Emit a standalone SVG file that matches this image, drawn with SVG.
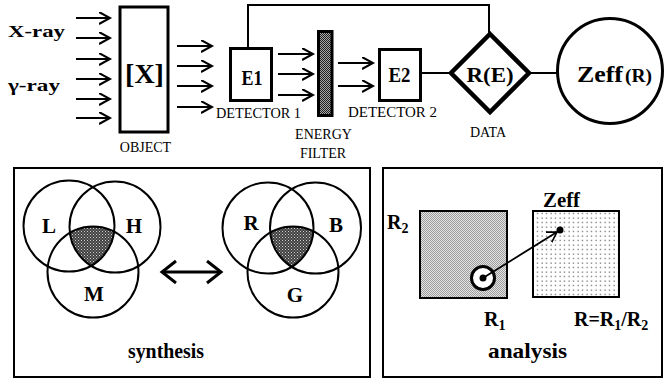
<svg xmlns="http://www.w3.org/2000/svg" width="665" height="379" viewBox="0 0 665 379">
<style>
.b{font-family:"Liberation Serif","Times New Roman",serif;font-weight:bold;fill:#000}
.r{font-family:"Liberation Serif","Times New Roman",serif;font-size:14px;fill:#000}
.ln{stroke:#000;stroke-width:2;fill:none}
.arr{stroke:#000;stroke-width:2;fill:none;marker-end:url(#ah)}
</style>
<defs>
<marker id="ah" markerWidth="14" markerHeight="14" refX="11" refY="6" orient="auto" markerUnits="userSpaceOnUse">
<path d="M0,0 L11,6 L0,12" fill="none" stroke="#000" stroke-width="2"/>
</marker>
<marker id="ahBig" markerWidth="20" markerHeight="26" refX="15" refY="12" orient="auto-start-reverse" markerUnits="userSpaceOnUse">
<path d="M1,1 L15,12 L1,23" fill="none" stroke="#000" stroke-width="3"/>
</marker>
<marker id="ahS" markerWidth="14" markerHeight="14" refX="10" refY="6" orient="auto" markerUnits="userSpaceOnUse">
<path d="M0,0 L10,6 L0,12" fill="none" stroke="#000" stroke-width="1.6"/>
</marker>
<pattern id="pFilter" width="2" height="2" patternUnits="userSpaceOnUse">
<rect width="2" height="2" fill="#a8a8a8"/><rect width="1" height="1" fill="#202020"/><rect x="1" y="1" width="1" height="1" fill="#202020"/>
</pattern>
<pattern id="pVenn" width="3" height="3" patternUnits="userSpaceOnUse">
<rect width="3" height="3" fill="#404040"/><rect width="1" height="1" fill="#d0d0d0"/><rect x="1.5" y="1.5" width="1" height="1" fill="#b0b0b0"/>
</pattern>
<pattern id="pLight" width="2" height="2" patternUnits="userSpaceOnUse">
<rect width="2" height="2" fill="#e4e4e4"/><rect width="1" height="1" fill="#9c9c9c"/><rect x="1" y="1" width="1" height="1" fill="#9c9c9c"/>
</pattern>
<pattern id="pDots" width="4.5" height="4.5" patternUnits="userSpaceOnUse">
<rect width="4.5" height="4.5" fill="#fff"/><rect x="1.5" y="1.5" width="1.2" height="1.2" fill="#555"/>
</pattern>
<clipPath id="cL"><circle cx="69" cy="226" r="45.5"/></clipPath>
<clipPath id="cH"><circle cx="115" cy="227" r="45.5"/></clipPath>
<clipPath id="cR"><circle cx="268" cy="228" r="45.5"/></clipPath>
<clipPath id="cB"><circle cx="315.5" cy="228" r="45.5"/></clipPath>
</defs>
<rect width="665" height="379" fill="#fff"/>

<g id="labels-rays">
<text class="b" x="8" y="37" font-size="17" textLength="57" lengthAdjust="spacingAndGlyphs">X-ray</text>
<text class="b" x="8" y="91" font-size="17" textLength="52" lengthAdjust="spacingAndGlyphs">γ-ray</text>
</g>

<g id="connectors">
<line class="arr" x1="76" y1="18" x2="110" y2="18"/>
<line class="arr" x1="76" y1="38" x2="110" y2="38"/>
<line class="arr" x1="76" y1="59" x2="110" y2="59"/>
<line class="arr" x1="76" y1="79" x2="110" y2="79"/>
<line class="arr" x1="76" y1="99" x2="110" y2="99"/>
<line class="arr" x1="76" y1="118" x2="110" y2="118"/>
<line class="arr" x1="177" y1="46" x2="212" y2="46"/>
<line class="arr" x1="177" y1="66" x2="212" y2="66"/>
<line class="arr" x1="177" y1="86" x2="212" y2="86"/>
<line class="arr" x1="177" y1="107" x2="212" y2="107"/>
<line class="arr" x1="278" y1="54" x2="313" y2="54"/>
<line class="arr" x1="278" y1="74" x2="313" y2="74"/>
<line class="arr" x1="278" y1="95" x2="313" y2="95"/>
<line class="arr" x1="338" y1="63" x2="373" y2="63"/>
<line class="arr" x1="338" y1="86" x2="373" y2="86"/>
<polyline class="ln" points="248,48 248,5 489,5 489,33"/>
<line class="ln" x1="421" y1="73" x2="450" y2="73"/>
<line class="ln" x1="530" y1="73" x2="558" y2="73"/>
</g>

<g id="object">
<rect x="120" y="7" width="48" height="125" fill="#fff" stroke="#000" stroke-width="3"/>
<text class="b" x="144.5" y="83" font-size="28" text-anchor="middle">[X]</text>
<text class="r" x="145.5" y="152" text-anchor="middle">OBJECT</text>
</g>

<g id="detector1">
<rect x="230.5" y="48.5" width="41" height="52" fill="#fff" stroke="#000" stroke-width="3"/>
<text class="b" x="252" y="85" font-size="20" text-anchor="middle" textLength="21" lengthAdjust="spacingAndGlyphs">E1</text>
<text class="r" x="216" y="118" textLength="85" lengthAdjust="spacingAndGlyphs">DETECTOR 1</text>
</g>

<g id="filter">
<rect x="318.5" y="31.5" width="13.5" height="84" fill="url(#pFilter)" stroke="#000" stroke-width="3"/>
<text class="r" x="323.5" y="139" text-anchor="middle">ENERGY</text>
<text class="r" x="323" y="158" text-anchor="middle">FILTER</text>
</g>

<g id="detector2">
<rect x="379.5" y="49.5" width="41" height="51" fill="#fff" stroke="#000" stroke-width="3"/>
<text class="b" x="399.5" y="82" font-size="20" text-anchor="middle" textLength="22" lengthAdjust="spacingAndGlyphs">E2</text>
<text class="r" x="348" y="117" textLength="89" lengthAdjust="spacingAndGlyphs">DETECTOR 2</text>
</g>

<g id="data">
<polygon points="490,34 529,73 490,112 451,73" fill="#fff" stroke="#000" stroke-width="4.5"/>
<text class="b" x="490" y="82" font-size="22" text-anchor="middle" textLength="47" lengthAdjust="spacingAndGlyphs">R(E)</text>
<text class="r" x="488" y="137" text-anchor="middle">DATA</text>
</g>

<g id="zeff">
<circle cx="610" cy="71" r="52.5" fill="#fff" stroke="#000" stroke-width="3"/>
<text class="b" x="577" y="82" font-size="24"><tspan textLength="46" lengthAdjust="spacingAndGlyphs">Zeff</tspan><tspan x="625" font-size="19" textLength="27" lengthAdjust="spacingAndGlyphs">(R)</tspan></text>
</g>

<g id="synthesis">
<rect x="14" y="168" width="356" height="209" fill="none" stroke="#000" stroke-width="2"/>
<g clip-path="url(#cL)"><g clip-path="url(#cH)"><circle cx="93" cy="272" r="45.5" fill="url(#pVenn)"/></g></g>
<circle cx="69" cy="226" r="45.5" class="ln"/>
<circle cx="115" cy="227" r="45.5" class="ln"/>
<circle cx="93" cy="272" r="45.5" class="ln"/>
<text class="b" x="49" y="233" font-size="21" text-anchor="middle">L</text>
<text class="b" x="134" y="233" font-size="21" text-anchor="middle">H</text>
<text class="b" x="94" y="301" font-size="21" text-anchor="middle">M</text>
<g clip-path="url(#cR)"><g clip-path="url(#cB)"><circle cx="293" cy="272" r="45.5" fill="url(#pVenn)"/></g></g>
<circle cx="268" cy="228" r="45.5" class="ln"/>
<circle cx="315.5" cy="228" r="45.5" class="ln"/>
<circle cx="293" cy="272" r="45.5" class="ln"/>
<text class="b" x="251" y="230" font-size="21" text-anchor="middle">R</text>
<text class="b" x="336" y="232" font-size="21" text-anchor="middle">B</text>
<text class="b" x="295" y="302" font-size="21" text-anchor="middle">G</text>
<line x1="162" y1="272" x2="221" y2="272" stroke="#000" stroke-width="3" marker-start="url(#ahBig)" marker-end="url(#ahBig)"/>
<text class="b" x="166" y="358" font-size="20" text-anchor="middle" textLength="76" lengthAdjust="spacingAndGlyphs">synthesis</text>
</g>

<g id="analysis">
<rect x="383" y="168" width="279" height="209" fill="none" stroke="#000" stroke-width="2"/>
<rect x="420" y="211" width="87" height="87" fill="url(#pLight)" stroke="#000" stroke-width="2"/>
<rect x="533" y="211" width="86" height="86" fill="url(#pDots)" stroke="#000" stroke-width="2"/>
<text class="b" x="543" y="207" font-size="20" textLength="37" lengthAdjust="spacingAndGlyphs">Zeff</text>
<text class="b" x="387" y="229" font-size="20">R<tspan font-size="14" dy="4">2</tspan></text>
<circle cx="483" cy="278" r="11.5" fill="#fff" stroke="#000" stroke-width="3"/>
<line x1="483" y1="278" x2="557" y2="232" stroke="#000" stroke-width="1.8" marker-end="url(#ahS)"/>
<circle cx="483" cy="278" r="3.5" fill="#000"/>
<circle cx="560" cy="230" r="3.5" fill="#000"/>
<text class="b" x="484" y="326" font-size="20">R<tspan font-size="14" dy="4">1</tspan></text>
<text class="b" x="574" y="326" font-size="20">R=R<tspan font-size="14" dy="4">1</tspan><tspan dy="-4">/R</tspan><tspan font-size="14" dy="4">2</tspan></text>
<text class="b" x="527.5" y="358" font-size="21" text-anchor="middle" textLength="79" lengthAdjust="spacingAndGlyphs">analysis</text>
</g>
</svg>
